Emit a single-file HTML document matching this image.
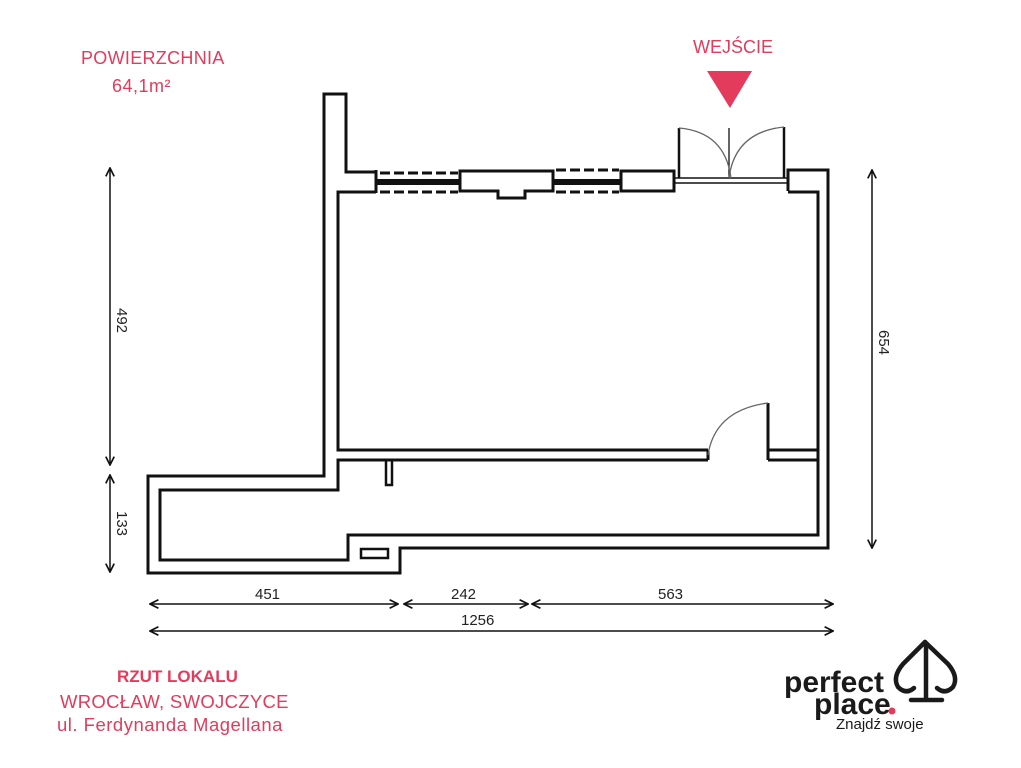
<!DOCTYPE html>
<html><head><meta charset="utf-8">
<style>
html,body{margin:0;padding:0;background:#fff;}
svg{display:block;}
text{font-family:"Liberation Sans",sans-serif;}
</style></head>
<body>
<svg width="1021" height="768" viewBox="0 0 1021 768" xmlns="http://www.w3.org/2000/svg">
<defs>
<marker id="a" viewBox="0 0 10 10" refX="9" refY="5" markerWidth="7" markerHeight="7" orient="auto-start-reverse">
<path d="M1,1 L9,5 L1,9" fill="none" stroke="#111" stroke-width="1.6"/>
</marker>
</defs>
<g fill="none" stroke="#111" stroke-width="3" stroke-linejoin="miter">
<path d="M376,172 L346,172 L346,94 L324,94 L324,476 L148,476 L148,573 L400,573 L400,548 L828,548 L828,170 L788,170 L788,191"/>
<path d="M376,192 L338,192 L338,450 L708,450"/>
<path d="M708,460 L338,460 L338,490 L160,490 L160,560 L348,560 L348,535 L818,535 L818,192 L788,192"/>
<path d="M768,450 L818,450 M768,460 L818,460"/>
<path d="M768,460 L768,403"/>
<path d="M708,450 L708,460"/>
<path d="M386,460 L386,485 L392,485 L392,460" stroke-width="2.5"/>
<rect x="361" y="549" width="27" height="9" stroke-width="2.5"/>
<path d="M376,170 L376,193"/>
<path d="M460,171 L553,171 L553,191 L525,191 L525,198 L498,198 L498,191 L460,191 Z"/>
<rect x="621" y="171" width="53" height="20"/>
</g>
<g stroke="#111">
<line x1="376" y1="182" x2="460" y2="182" stroke-width="6"/>
<line x1="553" y1="182" x2="621" y2="182" stroke-width="6"/>
<line x1="380" y1="173" x2="458" y2="173" stroke-width="3" stroke-dasharray="10,4"/>
<line x1="380" y1="192" x2="458" y2="192" stroke-width="3" stroke-dasharray="10,4"/>
<line x1="556" y1="170" x2="619" y2="170" stroke-width="3" stroke-dasharray="10,4"/>
<line x1="556" y1="192" x2="619" y2="192" stroke-width="3" stroke-dasharray="10,4"/>
<line x1="674" y1="178" x2="788" y2="178" stroke-width="1.5"/>
<line x1="674" y1="183" x2="788" y2="183" stroke-width="1.5"/>
<line x1="679" y1="128" x2="679" y2="178" stroke-width="2.5"/>
<line x1="784" y1="127" x2="784" y2="178" stroke-width="2.5"/>
<line x1="729" y1="128" x2="729" y2="178" stroke-width="1.3"/>
<path d="M679,128 Q725,132 731,178" fill="none" stroke="#666" stroke-width="1.3"/>
<path d="M784,127 Q735,132 729,178" fill="none" stroke="#666" stroke-width="1.3"/>
<path d="M768,403 Q715,410 708,455" fill="none" stroke="#666" stroke-width="1.3"/>
</g>
<g stroke="#111" stroke-width="1.5" marker-start="url(#a)" marker-end="url(#a)">
<line x1="110" y1="168" x2="110" y2="465"/>
<line x1="110" y1="475" x2="110" y2="572"/>
<line x1="872" y1="170" x2="872" y2="548"/>
<line x1="150" y1="604" x2="398" y2="604"/>
<line x1="404" y1="604" x2="528" y2="604"/>
<line x1="532" y1="604" x2="833" y2="604"/>
<line x1="150" y1="631" x2="833" y2="631"/>
</g>
<g fill="#222" font-size="15">
<text x="255" y="599">451</text>
<text x="451" y="599">242</text>
<text x="658" y="599">563</text>
<text x="461" y="625">1256</text>
<text transform="translate(117,308) rotate(90)">492</text>
<text transform="translate(117,511) rotate(90)">133</text>
<text transform="translate(879,330) rotate(90)">654</text>
</g>
<g fill="#e23b5c">
<text x="81" y="64" font-size="18" letter-spacing="0.3">POWIERZCHNIA</text>
<text x="112" y="92" font-size="18" letter-spacing="0.5">64,1m²</text>
<text x="693" y="53" font-size="18">WEJŚCIE</text>
<polygon points="707,71 752,71 730,108"/>
<text x="117" y="682" font-size="17" font-weight="bold">RZUT LOKALU</text>
<text x="60" y="708" font-size="18.5" letter-spacing="0.3">WROCŁAW, SWOJCZYCE</text>
<text x="57" y="731" font-size="18.5" letter-spacing="0.5">ul. Ferdynanda Magellana</text>
</g>
<g fill="#1a1a1a">
<text x="784" y="692" font-size="30" font-weight="bold">perfect</text>
<text x="814" y="714" font-size="30" font-weight="bold">place</text>
<circle cx="892" cy="711" r="3.5" fill="#e23b5c"/>
<text x="836" y="729" font-size="15">Znajdź swoje</text>
</g>
<g fill="none" stroke="#1a1a1a" stroke-width="4.5" stroke-linecap="round" stroke-linejoin="round">
<path d="M925,642 L903,664 Q892,677 898,687 Q906,695 914,688"/>
<path d="M925,642 L948,664 Q959,677 953,687 Q945,695 937,688"/>
<path d="M926,646 L926,700 M911,700 L942,700"/>
</g>
</svg>
</body></html>
